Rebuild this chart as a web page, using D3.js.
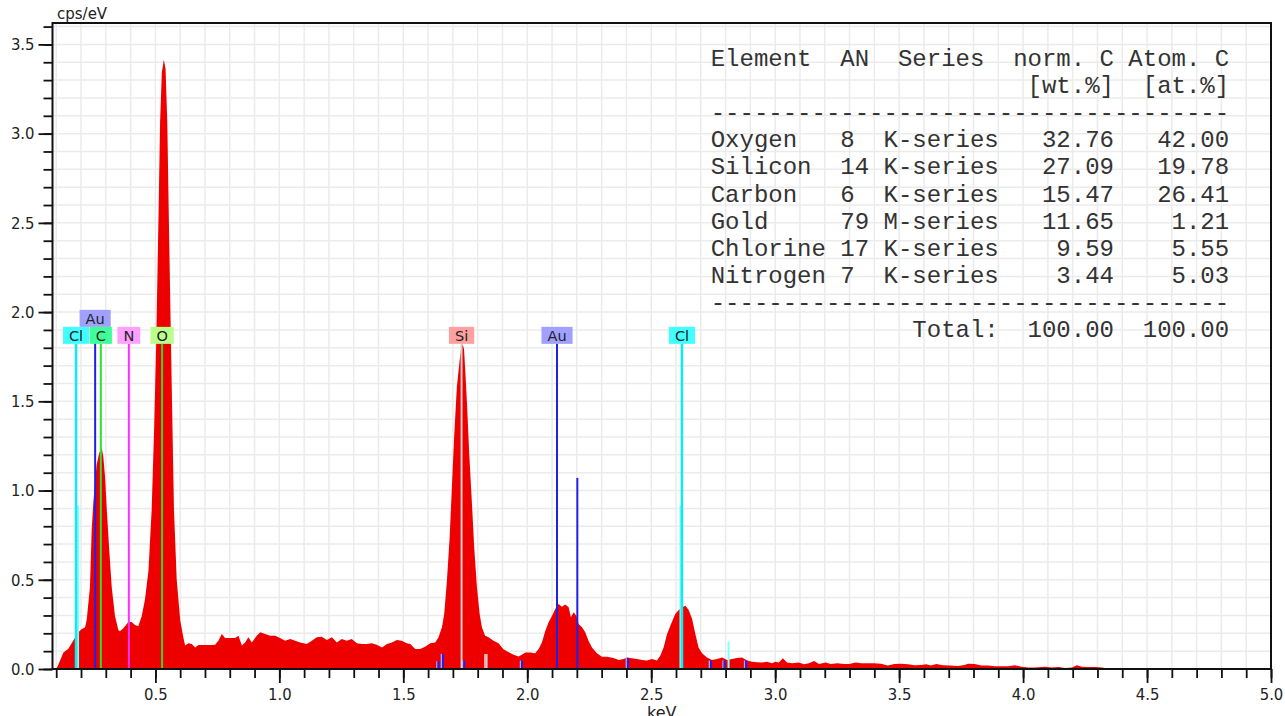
<!DOCTYPE html>
<html>
<head>
<meta charset="utf-8">
<script src="https://cdn.jsdelivr.net/npm/d3@7"></script>
<style>
body { margin: 0; background: #fff; }
#chart text { font-family: 'DejaVu Sans Condensed', 'DejaVu Sans', sans-serif; font-stretch: condensed; }
#chart text.plain { font-family: 'DejaVu Sans', sans-serif; font-stretch: normal; }
#chart .table text { font-family: 'Liberation Mono', monospace; font-stretch: normal; white-space: pre; }
</style>
</head>
<body>
<div id="chart"></div>
<script>
// EDX spectrum, [keV, cps/eV]
var spectrum = [
	[0.100,0.000],[0.108,0.023],[0.129,0.092],[0.149,0.114],[0.169,0.160],[0.189,0.206],[0.203,0.224],
	[0.216,0.233],[0.223,0.275],[0.236,0.458],[0.243,0.778],[0.250,0.938],[0.263,1.144],[0.274,1.213],
	[0.284,1.236],[0.290,1.190],[0.297,1.076],[0.304,0.892],[0.314,0.664],[0.324,0.458],[0.337,0.297],
	[0.351,0.217],[0.357,0.211],[0.371,0.229],[0.391,0.263],[0.404,0.263],[0.418,0.247],[0.431,0.240],
	[0.445,0.297],[0.458,0.389],[0.472,0.549],[0.485,0.892],[0.495,1.350],[0.503,1.808],[0.512,2.494],
	[0.519,3.066],[0.526,3.341],[0.534,3.414],[0.541,3.364],[0.548,3.066],[0.556,2.380],[0.566,1.579],
	[0.575,0.892],[0.586,0.503],[0.600,0.275],[0.613,0.175],[0.620,0.131],[0.633,0.144],[0.647,0.140],
	[0.660,0.121],[0.674,0.135],[0.694,0.135],[0.721,0.135],[0.741,0.136],[0.754,0.159],[0.768,0.196],
	[0.781,0.174],[0.801,0.174],[0.822,0.174],[0.835,0.187],[0.849,0.131],[0.862,0.149],[0.875,0.178],
	[0.889,0.149],[0.909,0.187],[0.923,0.206],[0.943,0.196],[0.963,0.187],[0.983,0.187],[1.003,0.174],
	[1.023,0.159],[1.044,0.168],[1.064,0.159],[1.084,0.149],[1.111,0.140],[1.131,0.159],[1.151,0.178],
	[1.171,0.181],[1.192,0.163],[1.212,0.178],[1.232,0.149],[1.252,0.168],[1.272,0.159],[1.292,0.168],
	[1.313,0.144],[1.333,0.140],[1.353,0.140],[1.373,0.144],[1.393,0.136],[1.414,0.121],[1.434,0.140],
	[1.454,0.149],[1.474,0.163],[1.494,0.159],[1.514,0.144],[1.528,0.140],[1.548,0.112],[1.568,0.112],
	[1.588,0.125],[1.609,0.144],[1.629,0.149],[1.642,0.178],[1.656,0.234],[1.665,0.308],[1.676,0.495],
	[1.687,0.738],[1.696,1.018],[1.705,1.299],[1.716,1.579],[1.727,1.728],[1.734,1.800],[1.740,1.818],
	[1.745,1.790],[1.750,1.672],[1.757,1.485],[1.766,1.205],[1.777,0.925],[1.786,0.682],[1.797,0.458],
	[1.808,0.308],[1.817,0.234],[1.830,0.187],[1.844,0.178],[1.864,0.159],[1.884,0.144],[1.904,0.110],
	[1.925,0.094],[1.945,0.080],[1.965,0.070],[1.978,0.080],[1.992,0.093],[2.012,0.093],[2.032,0.088],
	[2.046,0.112],[2.059,0.149],[2.073,0.215],[2.086,0.262],[2.100,0.299],[2.113,0.336],[2.126,0.364],
	[2.140,0.349],[2.153,0.361],[2.167,0.346],[2.176,0.290],[2.187,0.318],[2.198,0.299],[2.207,0.252],
	[2.221,0.234],[2.234,0.206],[2.247,0.159],[2.261,0.121],[2.281,0.088],[2.301,0.069],[2.322,0.069],
	[2.348,0.062],[2.369,0.050],[2.389,0.056],[2.402,0.065],[2.422,0.060],[2.443,0.056],[2.463,0.050],
	[2.483,0.047],[2.503,0.056],[2.523,0.047],[2.537,0.075],[2.550,0.121],[2.564,0.196],[2.580,0.252],
	[2.597,0.308],[2.611,0.331],[2.624,0.346],[2.638,0.355],[2.651,0.331],[2.665,0.280],[2.678,0.196],
	[2.691,0.121],[2.705,0.088],[2.725,0.065],[2.745,0.050],[2.765,0.056],[2.786,0.065],[2.806,0.050],
	[2.826,0.056],[2.846,0.062],[2.866,0.065],[2.887,0.047],[2.907,0.040],[2.927,0.038],[2.947,0.036],
	[2.967,0.041],[2.987,0.032],[3.001,0.041],[3.015,0.036],[3.031,0.060],[3.048,0.037],[3.069,0.032],
	[3.096,0.037],[3.116,0.026],[3.136,0.032],[3.157,0.045],[3.177,0.028],[3.204,0.037],[3.224,0.028],
	[3.251,0.032],[3.278,0.028],[3.298,0.028],[3.325,0.037],[3.346,0.032],[3.372,0.032],[3.399,0.032],
	[3.427,0.030],[3.454,0.019],[3.481,0.028],[3.508,0.030],[3.535,0.026],[3.562,0.021],[3.589,0.022],
	[3.609,0.026],[3.629,0.019],[3.650,0.028],[3.677,0.021],[3.704,0.019],[3.737,0.017],[3.764,0.022],
	[3.778,0.030],[3.805,0.028],[3.832,0.019],[3.859,0.019],[3.886,0.015],[3.913,0.015],[3.940,0.015],
	[3.967,0.021],[3.994,0.013],[4.021,0.009],[4.048,0.008],[4.089,0.013],[4.116,0.008],[4.143,0.011],
	[4.170,0.006],[4.197,0.008],[4.217,0.021],[4.237,0.013],[4.264,0.011],[4.291,0.011],[4.318,0.008],
	[4.345,0.002],[4.372,0.006],[4.399,0.006],[4.427,0.004],[4.454,0.001],[4.481,0.001],[4.508,0.004],
	[4.535,0.002],[4.561,0.001],[4.615,0.004],[4.643,0.001],[4.737,0.004],[4.764,0.000]
]

// labelled element lines: [element, keV, label row]
var peakLabels = [
	['Cl',0.180,0],['Au',0.257,1],['C',0.280,0],['N',0.393,0],['O',0.527,0],
	['Si',1.735,0],['Au',2.120,0],['Cl',2.624,0]
]
// short marker lines: [element, keV, height cps/eV]
var markerLines = [
	['Cl',0.188,0.915],['Cl',2.618,0.916],['Cl',2.812,0.153],
	['Au',2.202,1.071],['Au',1.642,0.043],['Au',1.660,0.084],['Au',1.746,0.047],['Au',1.979,0.047],
	['Au',2.406,0.062],['Au',2.741,0.047],['Au',2.796,0.047],['Au',2.883,0.047],
	['Si',1.836,0.084]
]

var elements   = ['Oxygen','Silicon','Carbon','Gold','Chlorine','Nitrogen']
var atomicNum  = [8,14,6,79,17,7]
var seriesName = ['K-series','K-series','K-series','M-series','K-series','K-series']
var normC      = [32.76,27.09,15.47,11.65,9.59,3.44]
var atomC      = [42.00,19.78,26.41,1.21,5.55,5.03]
var totalC     = [100.00,100.00]

var xTickLabels = [0.5,1.0,1.5,2.0,2.5,3.0,3.5,4.0,4.5,5.0]
var yTickLabels = [0.0,0.5,1.0,1.5,2.0,2.5,3.0,3.5]

var colors = {
	area: '#ee0000',
	grid: '#ebebeb',
	line:  { Cl:'#14eaea', Au:'#2020e6', C:'#30e030', N:'#ff30ff', O:'#30d830', Si:'#cfcfcf' },
	light: { Cl:'#80ffff', Au:'#a8a8ff', C:'#a0ffa0', N:'#ffa0ff', O:'#a0ffa0', Si:'#e8e8e8' },
	box:   { Cl:'#40ffff', Au:'#a0a0ff', C:'#40ff9a', N:'#ffa0ff', O:'#baff8e', Si:'#ffa0a0' }
}

var W = 1285, H = 716
var pLeft = 52.5, pRight = 1271, pTop = 23, pBottom = 669

var x = d3.scaleLinear().domain([0.085,5.0]).range([pLeft,pRight])
var y = d3.scaleLinear().domain([0,3.62]).range([pBottom,pTop])

var svg = d3.select('#chart').append('svg')
	.attr('width', W)
	.attr('height', H)

function step(a, b, s) {
	return d3.range(Math.round(a/s), Math.round(b/s)+1).map(i => +(i*s).toFixed(2))
}

function drawGrid() {
	var g = svg.append('g').attr('class','grid')
		.style('stroke', colors.grid).style('stroke-width', 1.5)
	step(0.1,4.9,0.1).forEach(v => {
		g.append('line').attr('x1',x(v)).attr('x2',x(v)).attr('y1',pTop).attr('y2',pBottom)
	})
	step(0.1,3.6,0.1).forEach(v => {
		g.append('line').attr('x1',pLeft).attr('x2',pRight).attr('y1',y(v)).attr('y2',y(v))
	})
}

function drawSpectrum() {
	var area = d3.area()
		.x(d => x(d[0]))
		.y0(y(0))
		.y1(d => y(d[1]))
	svg.append('path').datum(spectrum)
		.attr('d', area)
		.style('fill', colors.area)
}

function drawLines() {
	var g = svg.append('g').attr('class','lines')
	markerLines.forEach(m => {
		var px = x(m[1])
		if (m[2] < 0.1) {
			g.append('line').attr('x1',px-1.6).attr('x2',px-1.6).attr('y1',y(0)).attr('y2',y(m[2]))
			 .style('stroke', colors.light[m[0]]).style('stroke-width', 1.4)
		}
		g.append('line').attr('x1',px).attr('x2',px).attr('y1',y(0)).attr('y2',y(m[2]))
		 .style('stroke', m[0] === 'Cl' ? colors.light.Cl : colors.line[m[0]])
		 .style('stroke-width', 2)
	})
	var labelBottom = y(1.822)
	peakLabels.forEach(p => {
		var px = x(p[1])
		g.append('line').attr('x1',px).attr('x2',px).attr('y1',y(0)).attr('y2',labelBottom - p[2]*17)
		 .style('stroke', colors.line[p[0]])
		 .style('stroke-width', p[0] === 'Cl' ? 2.6 : 2)
	})
	peakLabels.forEach(p => {
		var px = x(p[1])
		var lg = g.append('g').attr('transform','translate(' + px + ',' + (labelBottom - p[2]*17) + ')')
		var rect = lg.append('rect')
		var t = lg.append('text').text(p[0])
			.attr('class','plain')
			.attr('text-anchor','middle')
			.attr('y', -3.2)
			.style('font-size','14.5px')
			.style('fill','#222')
		var w = t.node().getComputedTextLength() + 12
		rect.attr('x',-w/2).attr('y',-17).attr('width',w).attr('height',17)
			.style('fill', colors.box[p[0]])
	})
}

function drawAxes() {
	var xMinor = d3.axisBottom(x).tickValues(step(0.1,5.0,0.1)).tickSize(9).tickFormat('')
	var xMajor = d3.axisBottom(x).tickValues(xTickLabels).tickSize(14).tickPadding(5)
		.tickFormat(d3.format('.1f'))
	var yMinor = d3.axisLeft(y).tickValues(step(0.0,3.6,0.1)).tickSize(9).tickFormat('')
	var yMajor = d3.axisLeft(y).tickValues(yTickLabels).tickSize(14).tickPadding(4)
		.tickFormat(d3.format('.1f'))

	;[[xMinor,'x'],[xMajor,'x'],[yMinor,'y'],[yMajor,'y']].forEach(a => {
		var g = svg.append('g')
			.attr('transform', a[1] === 'x' ? 'translate(0,' + pBottom + ')' : 'translate(' + pLeft + ',0)')
			.call(a[0])
		g.select('.domain').remove()
		g.selectAll('line').style('stroke','#111').style('stroke-width',1.8)
		g.selectAll('text').style('font-size','16.5px').style('fill','#222')
	})

	svg.append('rect')
		.attr('x',pLeft).attr('y',pTop).attr('width',pRight-pLeft).attr('height',pBottom-pTop)
		.style('fill','none').style('stroke','#111').style('stroke-width',2)

	svg.append('text').text('cps/eV')
		.attr('class','plain')
		.attr('x',57).attr('y',18.5)
		.style('font-size','15px').style('fill','#222')
	svg.append('text').text('keV')
		.attr('class','plain')
		.attr('x',(pLeft+pRight)/2).attr('y',717.5)
		.attr('text-anchor','middle')
		.style('font-size','16px').style('fill','#222')
}

function drawTable() {
	var rows = []
	rows.push('Element  AN  Series  norm. C Atom. C')
	rows.push(' '.repeat(22) + '[wt.%]  [at.%]')
	rows.push('-'.repeat(36))
	elements.forEach((e,i) => {
		rows.push(e.padEnd(9) + String(atomicNum[i]).padEnd(3) + seriesName[i]
			+ normC[i].toFixed(2).padStart(8) + atomC[i].toFixed(2).padStart(8))
	})
	rows.push('-'.repeat(36))
	rows.push(' '.repeat(14) + 'Total:' + totalC[0].toFixed(2).padStart(8) + totalC[1].toFixed(2).padStart(8))

	var g = svg.append('g').attr('class','table')
	rows.forEach((r,i) => {
		g.append('text').text(r)
			.attr('x',710.7).attr('y',65.7 + i*27.16)
			.style('font-size','24px')
			.style('fill','#333')
	})
}

drawGrid()
drawSpectrum()
drawLines()
drawAxes()
drawTable()
</script>
</body>
</html>
